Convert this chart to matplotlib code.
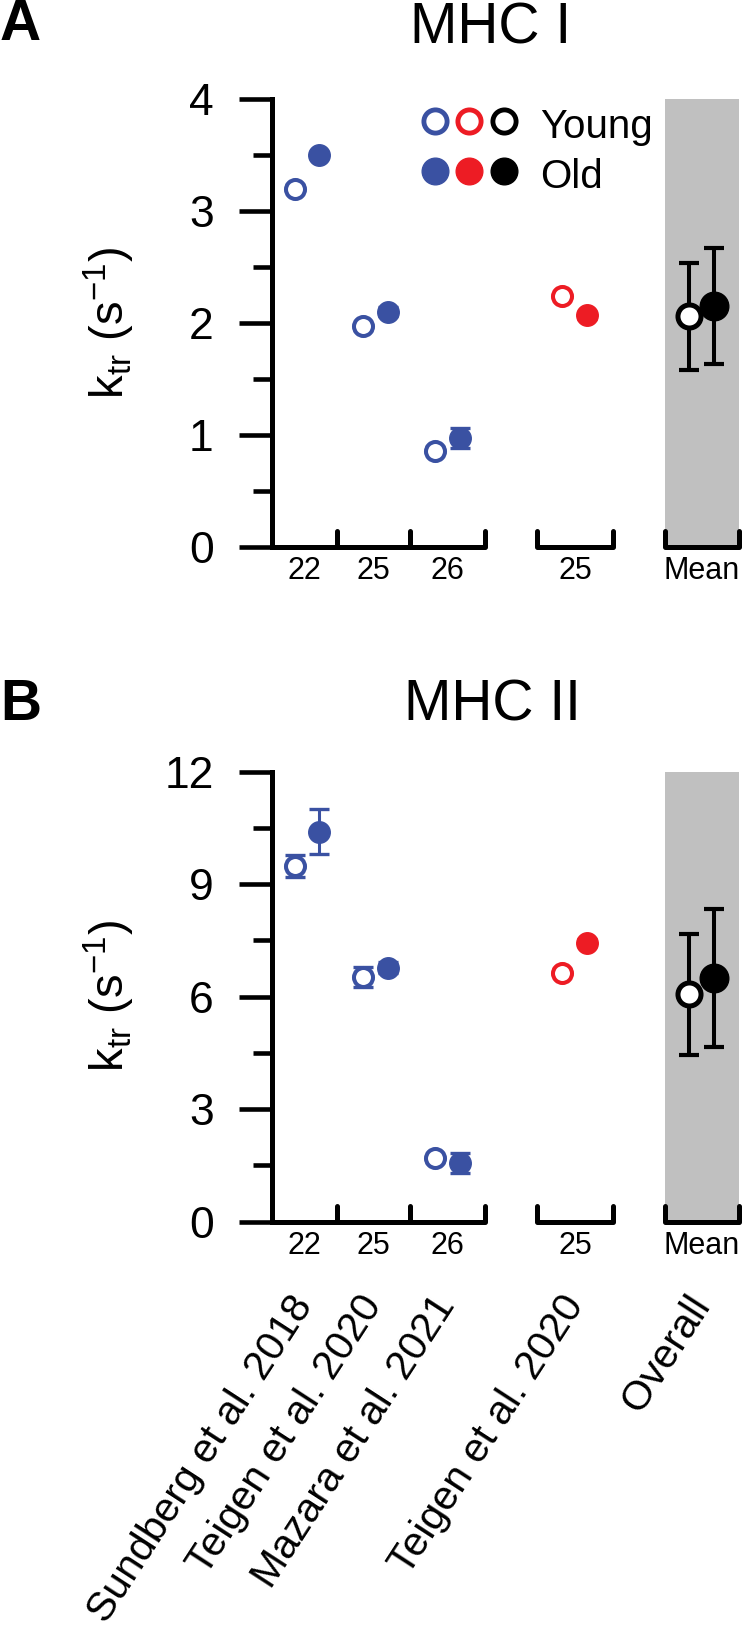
import matplotlib
matplotlib.use("Agg")
import matplotlib.pyplot as plt

plt.rcParams['font.family'] = ['Liberation Sans', 'DejaVu Sans']
plt.rcParams['mathtext.fontset'] = 'custom'
plt.rcParams['mathtext.rm'] = 'Liberation Sans'
plt.rcParams['mathtext.it'] = 'Liberation Sans:italic'

# Data (ktr, s^-1)
studies = ['Sundberg et al. 2018', 'Teigen et al. 2020', 'Mazara et al. 2021', 'Teigen et al. 2020', 'Overall']
temps = ['22', '25', '26', '25', 'Mean']

mhc1_young = [3.20, 1.97, 0.86, 2.24]
mhc1_young_err = [0.03, 0.03, 0.03, 0.03]
mhc1_old = [3.50, 2.10, 0.97, 2.07]
mhc1_old_err = [0.03, 0.04, 0.09, 0.03]
mhc1_mean = [2.06, 2.15]
mhc1_sd = [0.48, 0.52]

mhc2_young = [9.49, 6.53, 1.69, 6.64]
mhc2_young_err = [0.30, 0.26, 0.10, 0.10]
mhc2_old = [10.40, 6.77, 1.57, 7.44]
mhc2_old_err = [0.60, 0.15, 0.27, 0.10]
mhc2_mean = [6.06, 6.50]
mhc2_sd = [1.62, 1.83]

# Colours and layout
blue = '#3A51A2'
red = '#ED1C24'
study_colors = [blue, blue, blue, red]
gray = '#C0C0C0'

x_center = [0.0, 0.98, 2.01, 3.82, 5.64]
x_off = 0.175
label_x = [-0.035, 0.95, 2.0, 3.83, 5.64]
sep_ticks = [0.43, 1.47, 2.54]
seg2 = (3.29, 4.37)
seg3 = (5.11, 6.17)

W, H = 743, 1634
fig = plt.figure(figsize=(W / 100, H / 100), dpi=100)


def draw_panel(ax, young, young_err, old, old_err, mean, sd, ymax, step):
    ax.set_xlim(-0.5, 6.23)
    ax.set_ylim(0, ymax)
    for s in ['top', 'right', 'bottom']:
        ax.spines[s].set_visible(False)
    ax.spines['left'].set_linewidth(3.6)
    ax.spines['left'].set_bounds(0, ymax)
    ax.set_xticks([])
    ax.set_yticks([step * i for i in range(5)])
    ax.set_yticks([step * (i + 0.5) for i in range(4)], minor=True)
    ax.tick_params(axis='y', which='major', length=24, width=3.3, labelsize=32, pad=18)
    ax.tick_params(axis='y', which='minor', length=13.5, width=3.3)
    ax.patch.set_alpha(0)

    # gray band behind the overall mean
    ax.axvspan(seg3[0], seg3[1], color=gray, lw=0, zorder=0)

    # broken baseline with separators
    tr = ax.get_xaxis_transform()
    th = 16 / 448
    kw = dict(color='black', lw=3.6, transform=tr, clip_on=False,
              solid_capstyle='round', solid_joinstyle='round', zorder=3)
    ax.plot([-0.5, sep_ticks[-1], sep_ticks[-1]], [0, 0, th], **kw)
    for t in sep_ticks[:-1]:
        ax.plot([t, t], [0, th], **kw)
    for a, b in [seg2, seg3]:
        ax.plot([a, a, b, b], [th, 0, 0, th], **kw)

    for i, t in enumerate(temps):
        ax.text(label_x[i], -0.054, t, transform=tr, ha='center', va='center', fontsize=22)

    # individual studies
    for i in range(4):
        c = study_colors[i]
        xy = x_center[i] - x_off
        xo = x_center[i] + x_off
        ax.errorbar(xy, young[i], yerr=young_err[i], fmt='none', ecolor=c,
                    elinewidth=2.2, capsize=7, capthick=2.4, zorder=4)
        ax.plot(xy, young[i], 'o', mfc='white', mec=c, ms=13.7, mew=2.9, zorder=5, clip_on=False)
        ax.errorbar(xo, old[i], yerr=old_err[i], fmt='none', ecolor=c,
                    elinewidth=2.2, capsize=7, capthick=2.4, zorder=4)
        ax.plot(xo, old[i], 'o', mfc=c, mec=c, ms=15.5, mew=1, zorder=5, clip_on=False)

    # overall mean +/- SD
    xm = x_center[4]
    ax.errorbar(xm - x_off, mean[0], yerr=sd[0], fmt='none', ecolor='black',
                elinewidth=2.9, capsize=7.5, capthick=3, zorder=4)
    ax.plot(xm - x_off, mean[0], 'o', mfc='white', mec='black', ms=16.6, mew=3.6, zorder=5)
    ax.errorbar(xm + x_off, mean[1], yerr=sd[1], fmt='none', ecolor='black',
                elinewidth=2.9, capsize=7.5, capthick=3, zorder=6)
    ax.plot(xm + x_off, mean[1], 'o', mfc='black', mec='black', ms=20.6, mew=1, zorder=7)


ax1 = fig.add_axes([272 / W, 1 - 547 / H, 471 / W, 448 / H])
draw_panel(ax1, mhc1_young, mhc1_young_err, mhc1_old, mhc1_old_err, mhc1_mean, mhc1_sd, 4, 1)

ax2 = fig.add_axes([272 / W, 1 - 1221.7 / H, 471 / W, 450 / H])
draw_panel(ax2, mhc2_young, mhc2_young_err, mhc2_old, mhc2_old_err, mhc2_mean, mhc2_sd, 12, 3)

# study names under panel B
tr2 = ax2.get_xaxis_transform()
for i, s in enumerate(studies):
    ax2.text(label_x[i], -0.172, s, transform=tr2, rotation=57, rotation_mode='anchor',
             ha='right', va='center', fontsize=29.5)

# legend drawn by hand
leg_x = [0.346, 0.418, 0.4926]
leg_colors = [blue, red, 'black']
for i, c in enumerate(leg_colors):
    ax1.plot(leg_x[i], 0.951, 'o', mfc='white', mec=c, ms=16.7, mew=3.5,
             transform=ax1.transAxes, clip_on=False, zorder=8)
    ax1.plot(leg_x[i], 0.839, 'o', mfc=c, mec=c, ms=19.2, mew=1,
             transform=ax1.transAxes, clip_on=False, zorder=8)
ax1.text(0.569, 0.913, 'Young', transform=ax1.transAxes, ha='left', va='baseline', fontsize=29)
ax1.text(0.569, 0.801, 'Old', transform=ax1.transAxes, ha='left', va='baseline', fontsize=29)

# titles, panel letters, y labels
ylab = r'k$_{\mathrm{tr}}$ (s$^{\mathrm{-1}}$)'
fig.text(491 / W, 1 - 44 / H, 'MHC I', ha='center', va='baseline', fontsize=41)
fig.text(492 / W, 1 - 720 / H, 'MHC II', ha='center', va='baseline', fontsize=41)
fig.text(0.0, 1 - 40 / H, 'A', ha='left', va='baseline', fontsize=41, fontweight='bold')
fig.text(0.0, 1 - 720 / H, 'B', ha='left', va='baseline', fontsize=41, fontweight='bold')
fig.text(109 / W, 1 - 323 / H, ylab, rotation=90, ha='center', va='center', fontsize=34)
fig.text(109 / W, 1 - 996 / H, ylab, rotation=90, ha='center', va='center', fontsize=34)

fig.savefig('out.png', dpi=100)
